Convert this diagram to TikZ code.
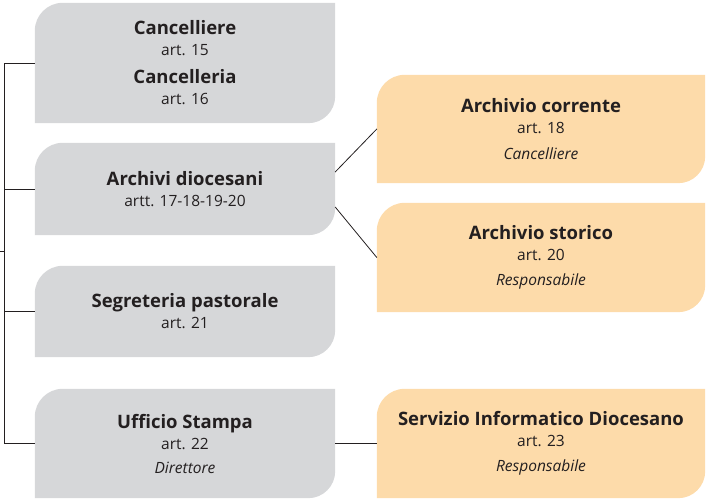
\documentclass[tikz,border=0pt]{standalone}
\usepackage{fontspec}
\setmainfont{Open Sans}
\usetikzlibrary{backgrounds}
\definecolor{boxgrey}{RGB}{214,215,217}
\definecolor{boxpeach}{RGB}{253,219,170}
\definecolor{inkdark}{RGB}{35,31,32}
\newcommand{\hd}[1]{{\fontsize{18.5}{21}\selectfont\bfseries #1}}
\newcommand{\rl}[1]{{\itshape #1}}

\tikzset{
  unit/.style={rectangle, inner sep=0pt, minimum width=300pt, align=center, text=inkdark, font=\fontsize{15.5}{21}\selectfont},
  subunit/.style={unit, minimum width=328pt},
  link/.style={draw=inkdark, line width=0.8pt},
}

\begin{document}
\begin{tikzpicture}[x=1pt, y=1pt]
	\useasboundingbox (0,0) rectangle (706,501);
	\node[unit, minimum height=120pt] (canc) at (185,438) {\hd{Cancelliere}\\ art. 15\\[7pt] \hd{Cancelleria}\\ art. 16};
	\node[unit, minimum height=92pt] (arch) at (185,312) {\hd{Archivi diocesani}\\ artt. 17-18-19-20};
	\node[unit, minimum height=91pt] (segr) at (185,189.5) {\hd{Segreteria pastorale}\\ art. 21};
	\node[unit, minimum height=109pt] (ustp) at (185,57.5) {\hd{Ufficio Stampa}\\ art. 22\\[3pt] \rl{Direttore}};
	\node[subunit, minimum height=108pt] (corr) at (541,372) {\hd{Archivio corrente}\\ art. 18\\[5pt] \rl{Cancelliere}};
	\node[subunit, minimum height=109pt] (stor) at (541,243.5) {\hd{Archivio storico}\\ art. 20\\[4pt] \rl{Responsabile}};
	\node[subunit, minimum height=109pt] (sid) at (541,57.5) {\hd{Servizio Informatico Diocesano}\\ art. 23\\[4pt] \rl{Responsabile}};
	\begin{scope}[on background layer]
	\foreach \n/\c in {canc/boxgrey, arch/boxgrey, segr/boxgrey, ustp/boxgrey, corr/boxpeach, stor/boxpeach, sid/boxpeach}
		\fill[\c] (\n.south west) -- ([yshift=-28pt]\n.north west) arc[start angle=180, end angle=90, radius=28pt] -- (\n.north east) -- ([yshift=27pt]\n.south east) arc[start angle=0, end angle=-90, radius=27pt] -- cycle;
	\end{scope}
	\coordinate (root) at (0,250);
	\coordinate (trunk) at (4,250);
	\draw[link] (root) -- (trunk);
	\draw[link] (canc.west) -- (canc.west -| trunk) -- (ustp.west -| trunk) -- (ustp.west);
	\draw[link] (arch.west) -- (arch.west -| trunk);
	\draw[link] (segr.west) -- (segr.west -| trunk);
	\draw[link] ([yshift=17pt]arch.east) -- (corr.west);
	\draw[link] ([yshift=-18pt]arch.east) -- (stor.west);
	\draw[link] (ustp.east) -- (sid.west);
\end{tikzpicture}
\end{document}
